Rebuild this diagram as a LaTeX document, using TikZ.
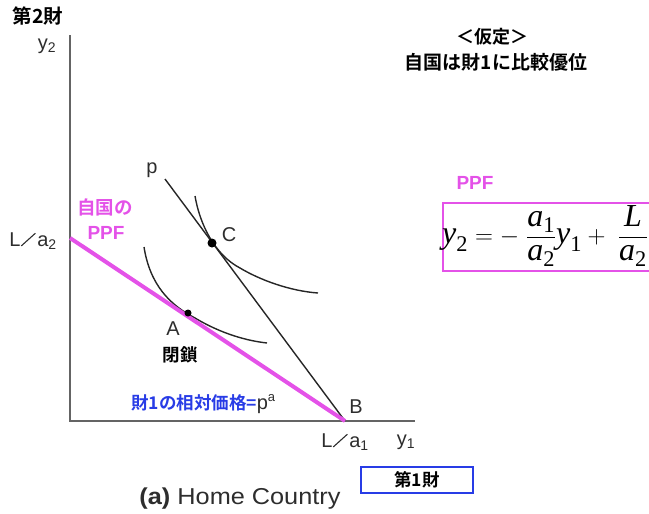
\documentclass[tikz,border=0pt]{standalone}
\usepackage{amsmath}
\usepackage{graphicx}
\usepackage{fontspec}
\setmainfont{Liberation Sans}
\newfontfamily\jp{Noto Sans CJK JP}[BoldFont={* Bold}]
\newfontfamily\tnr{Liberation Serif}
\newcommand\ti[1]{\text{\tnr\itshape #1}}
\newcommand\tn[1]{\text{\tnr #1}}
\newcommand\wslash{\kern0.5pt\rotatebox{42}{\rule{19pt}{1.1pt}}\kern1.5pt}
\definecolor{ppf}{RGB}{228,82,232}
\definecolor{axisc}{RGB}{100,100,100}
\definecolor{lbl}{RGB}{45,45,45}
\definecolor{bl}{RGB}{40,60,230}
\tikzset{
  axisline/.style={draw=axisc, line width=1.3pt},
  blackline/.style={draw=black!85, line width=1.4pt},
  ppfline/.style={draw=ppf, line width=4pt},
  lab/.style={text=lbl, font=\fontsize{20}{22}\selectfont, inner sep=0pt},
  jpb/.style={font=\jp\bfseries\fontsize{17.5}{19}\selectfont, inner sep=0pt},
  dotc/.style={circle, fill=black, inner sep=0pt, minimum size=9pt}
}
\begin{document}
\begin{tikzpicture}[x=1pt,y=-1pt]
\useasboundingbox (0,0) rectangle (649,514);
% axes
\coordinate (ytop) at (70,35);
\coordinate (O) at (70,421);
\coordinate (xend) at (415,421);
\draw[axisline] (ytop) -- (O) -- (xend);
% points
\coordinate (L2) at (70,238);
\coordinate (B) at (345,421);
\coordinate (pstart) at (165,179);
% indifference curves
\draw[blackline] (195,196) .. controls (200,225) and (215,255) .. (240,268) .. controls (260,280) and (290,291) .. (318,293);
\draw[blackline] (144,247) .. controls (150,285) and (170,305) .. (195,318) .. controls (215,330) and (240,340) .. (267,343);
% price line
\draw[blackline] (pstart) -- (B);
% PPF
\draw[ppfline] (L2) -- (B);
% dots
\node[dotc] (C) at (212,243) {};
\node[dotc, minimum size=7pt] (A) at (188,313) {};
% labels
\node[jpb, font=\jp\bfseries\fontsize{19.5}{21}\selectfont] (g2) at (38,16) {第2財};
\node[lab] (y2) at (47,46) {y$_{\text{2}}$};
\node[lab] (La2) at (33,241) {L\wslash a$_{\text{2}}$};
\node[lab] (plab) at (152,170) {p};
\node[lab] (Clab) at (229,235) {C};
\node[lab] (Alab) at (173,329) {A};
\node[lab] (Blab) at (356,407) {B};
\node[lab] (La1) at (345,442) {L\wslash a$_{\text{1}}$};
\node[lab] (y1) at (406,442) {y$_{\text{1}}$};
\node[jpb, text=ppf, font=\jp\bfseries\fontsize{18.5}{20}\selectfont] (jikoku) at (105,207) {自国の};
\node[font=\bfseries\fontsize{19}{21}\selectfont, text=ppf, inner sep=0pt] (ppf1) at (106,233) {PPF};
\node[jpb, text=black] (heisa) at (180,355) {閉鎖};
\node[inner sep=0pt, anchor=west] (price) at (131,404) {\jp\bfseries\fontsize{17.5}{19}\selectfont\textcolor{bl}{財1の相対価格=}\fontsize{20}{22}\mdseries\rmfamily\textcolor{lbl}{p$^{\text{\fontsize{13}{14}\selectfont a}}$}};
\node[draw=bl, line width=1.2pt, minimum width=112pt, minimum height=26pt, inner sep=0pt, jpb] (g1) at (417,480) {第1財};
\node[text=lbl, font=\fontsize{23}{25}\selectfont, inner sep=0pt] (cap) at (240,499) {\scalebox{1.1}[1]{\textbf{(a)} Home Country}};
\node[jpb, font=\jp\bfseries\fontsize{18}{20}\selectfont] (katei) at (492,37) {＜仮定＞};
\node[jpb, font=\jp\bfseries\fontsize{19}{21}\selectfont] (comp) at (496,62) {自国は財1に比較優位};
\node[font=\bfseries\fontsize{19}{21}\selectfont, text=ppf, inner sep=0pt] (ppf2) at (475,183) {PPF};
\draw[draw=ppf, line width=1.2pt] (660,203) -- (443,203) -- (443,271) -- (660,271);
\node[anchor=west, inner sep=0pt, font=\fontsize{32}{34}\selectfont] (eq) at (442,236)
 {$\ti{y}_{\tn{2}} = -\mkern5mu\dfrac{\ti{a}_{\tn{1}}}{\ti{a}_{\tn{2}}}\ti{y}_{\tn{1}}+\mkern5mu\dfrac{\ti{L}}{\ti{a}_{\tn{2}}}$};
\end{tikzpicture}
\end{document}
